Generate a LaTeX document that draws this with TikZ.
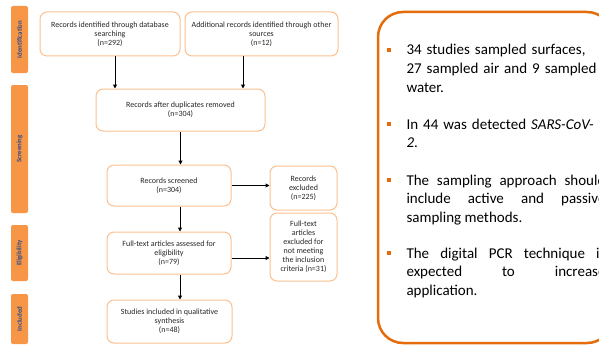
\documentclass[tikz,border=0pt]{standalone}
\usepackage{fontspec}
\setmainfont{Carlito}
\usepackage{tikz}
\usetikzlibrary{arrows.meta}
\definecolor{sidefill}{HTML}{F79646}
\definecolor{sidetext}{HTML}{2E4E8C}
\definecolor{boxline}{HTML}{FAC090}
\definecolor{bigline}{HTML}{E46C0A}
\hyphenpenalty=10000

\begin{document}
\begin{tikzpicture}[x = 1pt, y = -1pt, line width = 1pt, >={Triangle[length=4pt, width=4pt]},
                      phase/.style = {rotate = 90, fill = sidefill, rounded corners = 2pt, minimum height = 17pt,
                                      inner sep = 0pt, text = sidetext, font = \fontsize{6.8}{7}\selectfont\bfseries},
                      stage/.style = {draw = boxline, rounded corners = 7pt, align = center, inner sep = 1pt,
                                       text = black!85, font = \fontsize{8}{9}\selectfont},
                      bullet/.style = {fill = bigline, minimum size = 4pt, inner sep = 0pt},
                      point/.style = {anchor = base west, inner sep = 0pt, text width = 199pt,
                                      font = \fontsize{15}{18.5}\selectfont}]
    \path [use as bounding box, clip] (0, 0) rectangle (599, 345);

    % phases on the left
    \node [phase, minimum width = 67pt] (p1) at (19.5, 39.5){Identification};
    \node [phase, minimum width = 128pt] (p2) at (19.5, 149){Screening};
    \node [phase, minimum width = 56pt] (p3) at (19.5, 253){Eligibility};
    \node [phase, minimum width = 50pt] (p4) at (19.5, 319){Included};

    % flow boxes
    \node [stage, minimum width = 140pt, minimum height = 44pt] (b1) at (110, 34){Records identified through database\\searching\\(n=292)};
    \node [stage, minimum width = 153pt, minimum height = 44pt] (b2) at (261.5, 34){Additional records identified through other\\sources\\(n=12)};
    \node [stage, minimum width = 169pt, minimum height = 42pt] (b3) at (180.5, 110){Records after duplicates removed\\(n=304)};
    \node [stage, minimum width = 124pt, minimum height = 41pt] (b4) at (169, 185.5){Records screened\\(n=304)};
    \node [stage, minimum width = 67pt, minimum height = 44pt] (b5) at (303.5, 188){Records\\excluded\\(n=225)};
    \node [stage, minimum width = 124pt, minimum height = 42pt] (b6) at (169, 253){Full-text articles assessed for\\eligibility\\(n=79)};
    \node [stage, minimum width = 67pt, minimum height = 68pt] (b7) at (303.5, 247){Full-text\\articles\\excluded for\\not meeting\\the inclusion\\criteria (n=31)};
    \node [stage, minimum width = 125pt, minimum height = 43pt] (b8) at (169.5, 321.5){Studies included in qualitative\\synthesis\\(n=48)};

    \draw [->] ([xshift = 5pt]b1.south) -- ([xshift = 5pt]b1.south |- b3.north);
    \draw [->] ([xshift = -18.5pt]b2.south) -- ([xshift = -18.5pt]b2.south |- b3.north);
    \draw [->] (b3.south) -- (b3.south |- b4.north);
    \draw [->] ([xshift = 11pt]b4.south) -- ([xshift = 11pt]b4.south |- b6.north);
    \draw [->] (b4.east) -- (b4.east -| b5.west);
    \draw [->] ([yshift = -5pt]b6.east) -- ([yshift = -5pt]b6.east -| b7.west);
    \draw [->] ([xshift = 11pt]b6.south) -- ([xshift = 11pt]b6.south |- b8.north);

    % summary on the right
    \draw [draw = bigline, line width = 2.5pt, rounded corners = 25pt] (378, 12) rectangle (612, 343);
    \node [point, align = left, text width = 230pt] (t1) at (406, 55){34 studies sampled surfaces,\\27 sampled air and 9 sampled\\water.};
    \node [point, align = left, text width = 230pt] (t2) at (406, 129){In 44 was detected \textit{SARS-CoV-}\\\textit{2}.};
    \node [point, align = justify] (t3) at (406, 185){The sampling approach should\linebreak include active and passive\linebreak sampling methods.};
    \node [point, align = justify] (t4) at (406, 258){The digital PCR technique is\linebreak expected to increase\linebreak application.};
    \node [bullet] (d1) at ([xshift = -17pt, yshift = 5pt]t1.base west){};
    \node [bullet] (d2) at ([xshift = -17pt, yshift = 5pt]t2.base west){};
    \node [bullet] (d3) at ([xshift = -17pt, yshift = 5pt]t3.base west){};
    \node [bullet] (d4) at ([xshift = -17pt, yshift = 5pt]t4.base west){};
\end{tikzpicture}
\end{document}
